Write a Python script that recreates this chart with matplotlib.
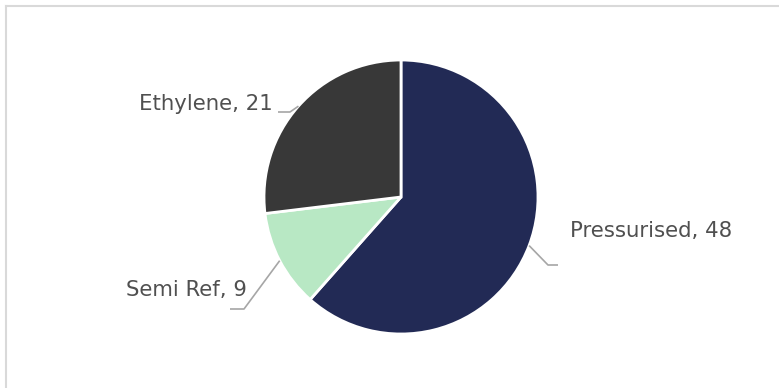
import numpy as np
import matplotlib
matplotlib.use('Agg')
import matplotlib.pyplot as plt
from matplotlib.lines import Line2D

plt.rcParams['font.family'] = ['DejaVu Sans']

# data
labels = ['Pressurised', 'Semi Ref', 'Ethylene']
values = [48, 9, 21]
colors = ['#222a55', '#b8e8c4', '#383838']

W, H = 779, 388
fig = plt.figure(figsize=(W / 100, H / 100), dpi=100)
ax = fig.add_axes([0, 0, 1, 1])

# pie centre / radius in pixels (y measured from top)
cx, cy, r = 401, 197, 137
wedges, _ = ax.pie(values, colors=colors, startangle=90, counterclock=False,
                   center=(cx, H - cy), radius=r,
                   wedgeprops=dict(edgecolor='white', linewidth=2))
ax.set_xlim(0, W)
ax.set_ylim(0, H)
ax.set_aspect('equal')
ax.axis('off')

# label placement: elbow, end of leader, text anchor
label_spec = {
    'Pressurised': dict(elbow=(548, 265), end=(558, 265), text=(570, 231), ha='left'),
    'Semi Ref': dict(elbow=(244, 309), end=(230, 309), text=(247, 290), ha='right'),
    'Ethylene': dict(elbow=(290, 112), end=(278, 112), text=(273, 104), ha='right'),
}

for w, lab, val in zip(wedges, labels, values):
    mid = np.deg2rad((w.theta1 + w.theta2) / 2)
    sx = cx + r * np.cos(mid)
    sy = cy - r * np.sin(mid)
    spec = label_spec[lab]
    xs = [sx, spec['elbow'][0], spec['end'][0]]
    ys = [H - sy, H - spec['elbow'][1], H - spec['end'][1]]
    ax.plot(xs, ys, color='#a6a6a6', lw=1.2, solid_capstyle='butt')
    ax.text(spec['text'][0], H - spec['text'][1], f'{lab}, {val}',
            ha=spec['ha'], va='center', fontsize=15.3, color='#505050')

# chart border (only left and top visible in the crop)
fig.add_artist(Line2D([6 / W, 6 / W], [0, 1 - 6 / H], transform=fig.transFigure,
                      color='#d9d9d9', lw=1.5))
fig.add_artist(Line2D([6 / W, 1], [1 - 6 / H, 1 - 6 / H], transform=fig.transFigure,
                      color='#d9d9d9', lw=1.5))

fig.savefig('out.png', dpi=100, facecolor='white')
